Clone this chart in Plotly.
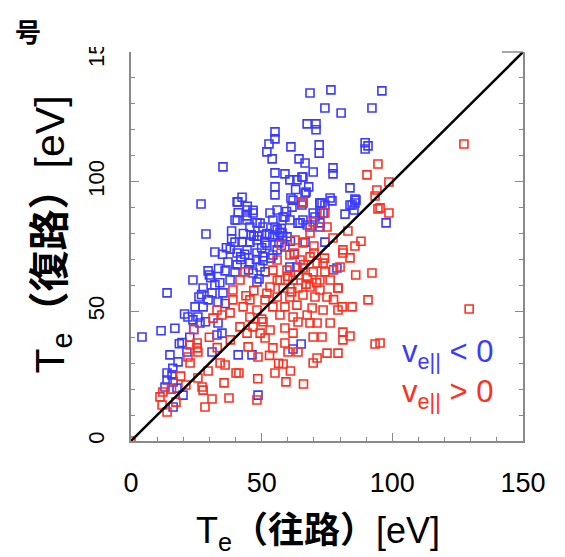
import plotly.graph_objects as go

# ---- data (Te outward [eV], Te return [eV]) ----
blue_x = [68.5, 76.5, 96, 74.2, 80.4, 92.2, 67.4, 70.8, 70.8, 55.1, 55.1, 52.8, 52, 54, 61.2, 72, 72,
          89.6, 90.7, 89.6, 64.3, 66.6, 69.7, 77.3, 77.3, 55.1, 58.9, 60.8, 63.5, 65.4, 55.1, 55.1, 67,
          83.8, 61.2, 42.5, 76.2, 85.7, 35.2, 26.8, 28.7, 40.6, 62, 72.3, 46.7, 44.4, 53.2, 58.9, 49.4,
          39.8, 63.9, 55.1, 86.1, 84.6, 85.3, 81.9, 76.9, 65.8, 66.6, 65.4, 73.1, 73.5, 72.3, 67.4, 66.6,
          74.2, 70.4, 97.6,
          55.9, 61.6, 65.8, 72.3, 74.2, 83.8, 85.7, 72.3, 69.7, 54.3, 58.2, 60.8, 64.7, 55.9, 54.3, 57.8,
          59.7, 56.6, 55.9, 58.9, 54.3, 65.8, 68.5, 72.3, 60.8, 63.5, 78.8,
          40.9, 44.4, 46.7, 40.6, 44.4, 48.2, 45.5, 50.5, 39.8, 42.5, 45.5, 48.2, 51.3, 40.6, 44.4, 48.2,
          50.5, 37.1, 40.6, 45.5, 49.4, 36, 39.8, 46.7, 51.3, 37.9, 48.2, 32.1, 27.6, 31, 35.2, 29.5,
          33.3, 24.5, 27.6, 21.8, 25.6, 32.1, 29.5, 23.7, 13.8,
          23.7, 26.4, 33.3, 34.8, 32.9, 21.4, 14.9, 18, 31, 13.8, 15.7, 13.8, 16.1, 13, 17.6, 19.9, 16.1,
          41, 46.3, 48.6, 4.2, 11.5, 16.8, 19.5, 62, 65.1, 43, 47, 38.5, 53, 57, 61, 36.5, 42, 50.5, 30.5,
          34, 26, 20.5, 18.5, 24, 28.5, 22.5, 16, 36, 52, 58, 62.5, 48.5, 43.5,
          38, 42, 46, 50, 53.5, 57.5, 41, 44.5, 48, 52, 35, 38.5, 30, 27, 33.5, 45, 49, 59.5, 63, 68]
blue_y = [134.2, 135.4, 135, 128.4, 126.5, 128.4, 122.3, 122.3, 120, 119.2, 116.5, 114.5, 111.5, 108.8,
          113.4, 114.2, 111, 115, 113.8, 112.6, 108.8, 107.2, 103.7, 105.3, 103, 103.4, 103, 100.7, 100.7,
          101.8, 98, 94.9, 96, 97.6, 93.7, 94, 93.7, 93.3, 105.7, 91.4, 79.8, 92.2, 92.9, 91.8, 89, 86.8,
          87.9, 86.4, 84, 85.2, 84, 82.5, 92.9, 91, 89.1, 87.5, 92.6, 101.8, 95.6, 91, 91.8, 87.9, 82.5,
          83.3, 76.7, 76.7, 86.4, 84.1,
          89.1, 90.2, 91.8, 91.8, 91, 91, 91.8, 87.9, 87.9, 85.2, 86.4, 85.2, 84.1, 81.4, 78.7, 80.2, 78.7,
          76.4, 73.7, 74.8, 71.7, 85.2, 82.5, 84.1, 67.1, 67.1, 66.7,
          92.2, 89.1, 87.9, 85.2, 85.2, 84.1, 82.5, 82.5, 76.7, 76.7, 76.7, 77.5, 76.4, 72.5, 73.7, 72.5,
          71, 69, 67.9, 68.6, 67.1, 65.6, 65.2, 64.8, 65.2, 62.1, 61.3, 60.2, 59, 57.1, 57.1, 54.4, 53.6,
          51.7, 51.7, 47.8, 47.8, 72.9, 65.6, 62.1, 57.1,
          46.7, 45.5, 45.5, 41.6, 40.9, 34.3, 33.2, 30.5, 34.3, 26.2, 25.5, 23.5, 22.8, 20.8, 20.4, 17.7,
          13.1, 33.2, 33.2, 17.7, 40.1, 42.5, 43.5, 38, 35.5, 37.4, 80, 79, 81, 79.5, 80.5, 77, 74.5, 70,
          69.5, 63, 61, 55.5, 49, 37.5, 43, 46, 40, 28, 53, 75.5, 79, 72, 79, 72,
          74, 71, 79.5, 74.5, 70.5, 82, 88, 90.5, 70, 80, 72, 78, 64, 56.5, 66.5, 66, 62.5, 88.5, 97, 98]

red_x = [127.4, 94.5, 90.3, 98.7, 94.1, 93.4, 94.5, 98.7, 129.4, 95.3, 0, 95.3,
         74.2, 65.8, 69.7, 75, 68.5, 77.3, 85.7, 70, 81.1, 62.8, 65.8, 60.8, 81.1, 83.8, 80, 92.2, 76.2,
         79.2, 90.7, 80.8, 84.6, 79.2, 88, 83, 86,
         55.9, 64.7, 68.5, 71.2, 73.5, 54.3, 59.7, 65.8, 69.7, 74.2, 57, 62, 67.4, 72.3, 53.2, 58.2, 63.9,
         68.5, 72.3, 55.9, 60.8, 65.8, 70.4, 75, 54.3, 58.9, 63.5, 69.3, 73.5, 57, 62, 67.4, 79.2, 77.5,
         53.2, 58.9, 63.9, 68.5, 71.2, 76.2, 81.1, 83.8, 81.1, 93.4, 69.7, 73.1, 58.9, 62, 63.9, 60.1, 54.3,
         75, 79.2, 71.2, 69.7, 58.2, 55.1, 59.3,
         49.4, 44.4, 44.8, 48.6, 36, 40.2, 41.3, 35.6, 27.2, 27.6, 31, 37.5, 48.2, 28.3, 13.8, 11.9, 17.2,
         25.3, 25.6, 22.6, 34.1, 21.8, 11.1, 12.2, 22.6, 25.3, 51.3, 46.7, 41.7,
         43.6, 41.7, 39, 32.9, 34.8, 39, 42.9, 45.5, 48.2, 51.3, 45.5, 37.9, 31.4, 47, 44, 50, 25.6, 21,
         19, 15.5, 29.5, 33, 38, 30, 24, 53, 56.5, 61, 66, 48.5,
         60, 64, 67, 71, 66, 62.5, 70, 74, 77.5, 57.5, 61.5, 56, 52, 50.5]
red_y = [114.5, 106.8, 102.6, 99.9, 96.8, 94.5, 89.5, 87.9, 50.9, 37.8, 0, 89.9,
         87.9, 92.2, 84.5, 82.5, 80.2, 78.3, 75.2, 75.2, 73.7, 77.5, 76.4, 71.7, 72.5, 70.6, 67.1, 64.8,
         62.1, 59, 54.4, 51.7, 51.7, 50.5, 77, 81, 64,
         69.8, 69.8, 71, 68.6, 68.6, 65.9, 65.9, 66.7, 65.2, 65.2, 62.1, 62.1, 62.9, 62.1, 59.4, 59, 59,
         59.4, 58.2, 55.5, 55.5, 56.3, 55.5, 55.5, 51.7, 51.7, 52.4, 51.3, 50.5, 48.6, 47.8, 48.6, 59, 54.5,
         42.8, 43.6, 45.9, 45.5, 45.5, 45.5, 42, 40.5, 39, 37.4, 40.1, 40.1, 37.8, 41.6, 34.3, 34.3, 35.9,
         33.9, 33.9, 32, 30.1, 29.7, 26.2, 22.8,
         41.6, 41.6, 36.3, 32.4, 29.3, 26.2, 26.2, 22.4, 20.8, 19.6, 16.2, 16.6, 15.8, 13.1, 11.2, 13.9, 15,
         37.8, 34.3, 30.1, 30.1, 32.4, 17, 18.9, 37, 35.9, 39.7, 44, 44,
         65.2, 62.1, 58.2, 50.5, 48.6, 54.4, 51.7, 54.4, 50.5, 54.4, 47.8, 49.4, 47.4, 58, 56, 47, 24.3,
         21.6, 25, 20, 27, 36, 39, 40, 43, 33, 30, 27, 22, 24,
         63.5, 64, 60.5, 61, 68, 72.5, 72.5, 70.5, 66, 75.5, 57.5, 62, 57, 46]

diag = [0, 150]
ticks_major = [0, 50, 100, 150]
tick_labels = ["0", "50", "100", "150"]

BLUE = "#3b3bff"
RED = "#ff3020"
AX = "#8a8a8a"
FONT = "Liberation Sans, Arial, Noto Sans CJK JP, sans-serif"

fig = go.Figure()
fig.add_trace(go.Scatter(x=blue_x, y=blue_y, mode="markers",
                         marker=dict(symbol="square-open", size=8, color=BLUE, line=dict(width=1.6, color=BLUE))))
fig.add_trace(go.Scatter(x=red_x, y=red_y, mode="markers",
                         marker=dict(symbol="square-open", size=8, color=RED, line=dict(width=1.6, color=RED))))
fig.add_trace(go.Scatter(x=diag, y=diag, mode="lines", line=dict(color="black", width=2.5)))

axis_common = dict(range=[0, 150], tickvals=ticks_major, ticktext=tick_labels,
                   ticks="inside", ticklen=8, tickwidth=1.3, tickcolor=AX,
                   minor=dict(dtick=10, tick0=0, ticks="inside", ticklen=4, tickwidth=1.3, tickcolor=AX),
                   showline=True, linecolor=AX, linewidth=1.5, showgrid=False, zeroline=False)

fig.update_xaxes(**axis_common, mirror=False, ticklabelstandoff=17,
                 tickfont=dict(family=FONT, size=27, color="black"))
fig.update_yaxes(**axis_common, mirror="ticks", tickangle=-90, ticklabelstandoff=16,
                 tickfont=dict(family=FONT, size=22, color="black"))

ann = []
ann.append(dict(text="T<sub>e</sub><b>（往路）</b>[eV]", xref="paper", yref="paper",
                x=0.477, y=-0.237, xanchor="center", yanchor="middle", showarrow=False,
                font=dict(family=FONT, size=36, color="black")))
ann.append(dict(text="T<sub>e</sub><b>（復路）</b>[eV]", xref="paper", yref="paper",
                x=-0.2, y=0.53, xanchor="center", yanchor="middle", showarrow=False, textangle=-90,
                font=dict(family=FONT, size=41, color="black")))
ann.append(dict(text="<b>号</b>", xref="paper", yref="paper", x=-0.263, y=1.054,
                xanchor="center", yanchor="middle", showarrow=False,
                font=dict(family="Noto Sans CJK JP", size=26, color="black")))
ann.append(dict(text="v<sub>e||</sub> < 0", xref="paper", yref="paper", x=0.929, y=0.224,
                xanchor="right", yanchor="middle", showarrow=False,
                font=dict(family=FONT, size=31, color=BLUE)))
ann.append(dict(text="v<sub>e||</sub> > 0", xref="paper", yref="paper", x=0.929, y=0.121,
                xanchor="right", yanchor="middle", showarrow=False,
                font=dict(family=FONT, size=31, color=RED)))

shapes = [
    # white area hiding the top of the "150" label, as in the source crop
    dict(type="rect", xref="paper", yref="paper", x0=-0.14, x1=-0.03, y0=1.013, y1=1.1,
         fillcolor="white", line=dict(width=0), layer="above"),
    # short visible piece of the top frame at the right
    dict(type="line", xref="paper", yref="paper", x0=0.946, x1=1.0, y0=1.0, y1=1.0,
         line=dict(color=AX, width=1.5), layer="above"),
]

# page body has an 8px margin; size/margins compensate so the plot lands at x 131-523, y 52-441
fig.update_layout(width=557, height=549, autosize=False,
                  margin=dict(l=123, r=42, t=44, b=116),
                  paper_bgcolor="white", plot_bgcolor="white",
                  showlegend=False, annotations=ann, shapes=shapes)

fig.write_html("out.html")
